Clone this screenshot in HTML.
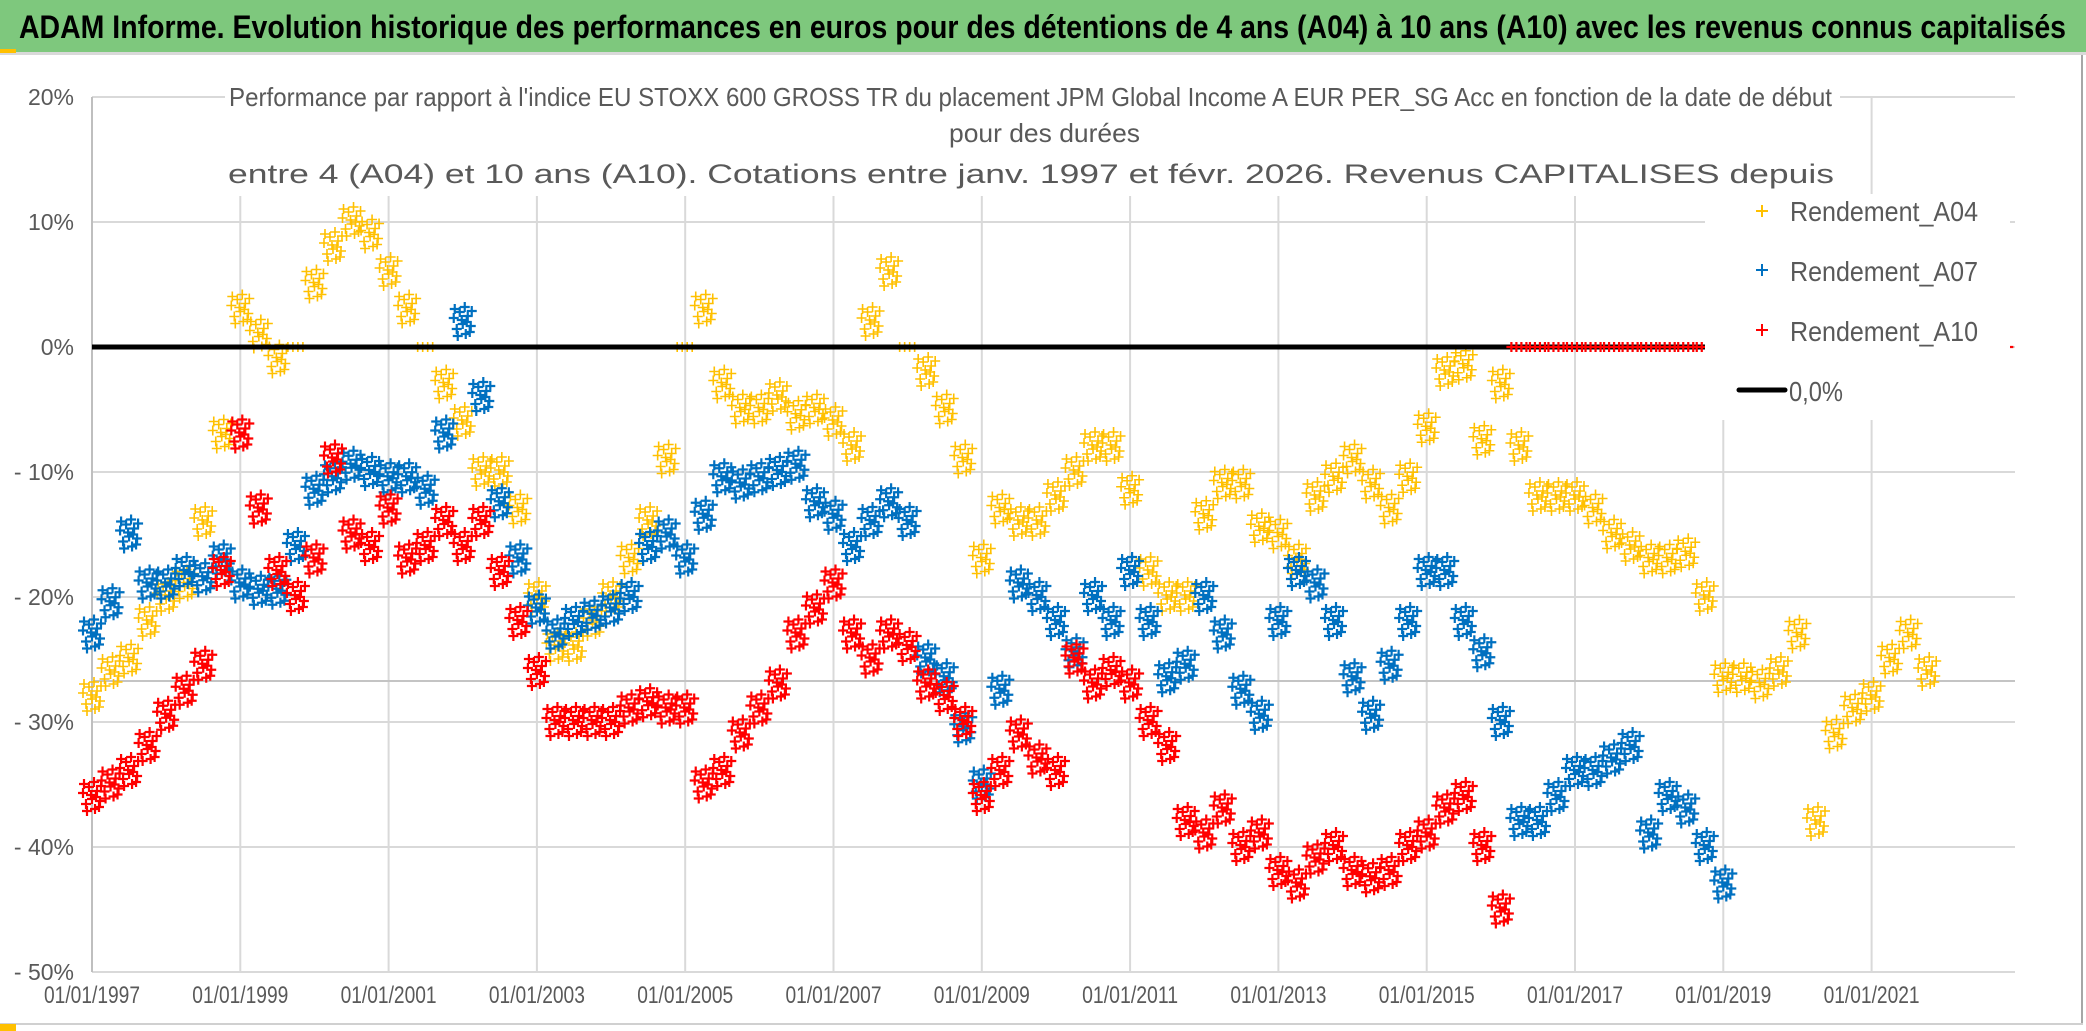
<!DOCTYPE html>
<html><head><meta charset="utf-8"><style>
html,body{margin:0;padding:0;background:#fff;}
svg{display:block;font-family:"Liberation Sans",sans-serif;}
</style></head><body>
<svg id="chart" width="2086" height="1031" viewBox="0 0 2086 1031" xmlns="http://www.w3.org/2000/svg">
<rect x="0" y="0" width="2086" height="1031" fill="#ffffff"/>
<rect x="0" y="0" width="2086" height="52" fill="#7ec87d"/>
<rect x="0" y="52" width="2086" height="3" fill="#d9d9d9"/>
<rect x="0" y="49" width="16" height="4" fill="#ffc000"/>
<text x="19" y="38" font-size="32" font-weight="bold" fill="#000" textLength="2047" lengthAdjust="spacingAndGlyphs">ADAM Informe. Evolution historique des performances en euros pour des détentions de 4 ans (A04) à 10 ans (A10) avec les revenus connus capitalisés</text>
<g id="grid"></g>
<g id="series"></g>
<rect x="225" y="72" width="1615" height="124" fill="#fff"/>
<text x="229" y="106" font-size="26" fill="#595959" textLength="1603" lengthAdjust="spacingAndGlyphs">Performance par rapport à l'indice EU STOXX 600 GROSS TR  du placement JPM Global Income A EUR PER_SG Acc en fonction de la date de début</text>
<text x="949" y="142" font-size="26" fill="#595959" textLength="191" lengthAdjust="spacingAndGlyphs">pour des durées</text>
<text x="228" y="183" font-size="27" fill="#595959" textLength="1606" lengthAdjust="spacingAndGlyphs">entre 4 (A04) et 10 ans (A10). Cotations entre janv. 1997 et févr. 2026. Revenus CAPITALISES depuis</text>
<g>
<rect x="1705" y="194" width="305" height="226" fill="#fff"/>
<g>
<path d="M1756 211h12M1762 205v12" stroke="#ffc000" stroke-width="2"/>
<text x="1790" y="221" font-size="28" fill="#595959" textLength="188" lengthAdjust="spacingAndGlyphs">Rendement_A04</text></g>
<g>
<path d="M1756 270h12M1762 264v12" stroke="#0070c0" stroke-width="2"/>
<text x="1790" y="281" font-size="28" fill="#595959" textLength="188" lengthAdjust="spacingAndGlyphs">Rendement_A07</text></g>
<g>
<path d="M1756 330h12M1762 324v12" stroke="#ff0000" stroke-width="2"/>
<text x="1790" y="341" font-size="28" fill="#595959" textLength="188" lengthAdjust="spacingAndGlyphs">Rendement_A10</text></g>
<g>
<line x1="1739" y1="390" x2="1785" y2="390" stroke="#000" stroke-width="5" stroke-linecap="round"/>
<text x="1789" y="401" font-size="28" fill="#595959" textLength="54" lengthAdjust="spacingAndGlyphs">0,0%</text></g>
</g>
<g id="axes"></g>
<line x1="2082" y1="55" x2="2082" y2="1024" stroke="#a6a6a6" stroke-width="2"/>
<line x1="0" y1="1024" x2="2083" y2="1024" stroke="#d0d0d0" stroke-width="2"/>
<rect x="0" y="1024" width="16" height="7" fill="#ffc000"/>
</svg>
<script>
const yTicks = [20, 10, 0, -10, -20, -30, -40, -50];
const yTickLabels = ["20%", "10%", "0%", "- 10%", "- 20%", "- 30%", "- 40%", "- 50%"];
const xTicks = [1997, 1999, 2001, 2003, 2005, 2007, 2009, 2011, 2013, 2015, 2017, 2019, 2021];
const xTickLabels = ["01/01/1997","01/01/1999","01/01/2001","01/01/2003","01/01/2005","01/01/2007","01/01/2009","01/01/2011","01/01/2013","01/01/2015","01/01/2017","01/01/2019","01/01/2021"];
const a04Start = 1997;
const a04Values = [-28,-26,-25,-22, -20,-19,-14,-7, 3,1,-1,0, 5,8,10,9, 6,3,0,-3, -6,-10,-10,-13, -20,-24,-24,-22, -20,-17,-14,-9, 0,3,-3,-5, -5,-4,-5.5,-5, -6,-8,2,6, 0,-2,-5,-9, -17,-13,-14,-14, -12,-10,-8,-8, -11.5,-18,-20,-20, -13.5,-11,-11,-14.5, -15,-17,-12,-10.5, -9,-11,-13,-10.5, -6.5,-2,-1.5,-7.5, -3,-8,-12,-12, -12,-13,-15,-16, -17,-17,-16.5,-20, -26.5,-26.5,-27,-26, -23,-38,-31,-29, -28,-25,-23,-26];
const a07Start = 1997;
const a07Values = [-23,-20.5,-15,-19, -19,-18,-18.5,-17, -19,-19.5,-19.5,-16, -11.5,-10.5,-9.5,-10, -10.5,-10.5,-11.5,-7, 2,-4,-12.5,-17, -21,-23,-22,-21.5, -21,-20,-16,-15, -17,-13.5,-10.5,-11, -10.5,-10,-9.5,-12.5, -13.5,-16,-14,-12.5, -14,-25,-26.5,-30.5, -35,-27.5,-19,-20, -22,-24.5,-20,-22, -18,-22,-26.5,-25.5, -20,-23,-27.5,-29.5, -22,-18,-19,-22, -26.5,-29.5,-25.5,-22, -18,-18,-22,-24.5, -30,-38,-38,-36, -34,-34,-33,-32, -39,-36,-37,-40, -43];
const a10Start = 1997;
const a10Values = [-36,-35,-34,-32, -29.5,-27.5,-25.5,-18, -7,-13,-18,-20, -17,-9,-15,-16, -13,-17,-16,-14, -16,-14,-18,-22, -26,-30,-30,-30, -30,-29,-28.5,-29, -29,-35,-34,-31, -29,-27,-23,-21, -19,-23,-25,-23, -24,-27,-28,-30, -36,-34,-31,-33, -34,-25,-27,-26, -27,-30,-32,-38, -39,-37,-40,-39, -42,-43,-41,-40, -42,-42.5,-42,-40, -39,-37,-36,-40, -45,0,0,0, 0,0,0,0, 0,0,0,0, 0,0,0,0, 0,0,0,0, 0,0,0,0, 0,0,0,0];
const zeroLineValue = 0;

const NS = "http://www.w3.org/2000/svg";
const X0 = 92, PXY = 74.15, Y0 = 347, PXV = 12.5, XRIGHT = 2015;
function xScale(yr){ return X0 + (yr - 1997) * PXY; }
function yScale(v){ return Y0 - v * PXV; }
function mk(tag, attrs, parent){ const e = document.createElementNS(NS, tag); for (const k in attrs) e.setAttribute(k, attrs[k]); parent.appendChild(e); return e; }

const grid = document.getElementById('grid');
yTicks.forEach(function(t){
  const l = mk('line', {x1: X0, x2: XRIGHT, y1: yScale(t), y2: yScale(t), stroke: '#d9d9d9', 'stroke-width': 2}, grid);
  
  
});
xTicks.forEach(function(t){
  const l = mk('line', {x1: xScale(t), x2: xScale(t), y1: yScale(20), y2: yScale(-50), stroke: t === 1997 ? '#bfbfbf' : '#d9d9d9', 'stroke-width': 2}, grid);
  
  
});
const ref = mk('line', {x1: X0, x2: XRIGHT, y1: 681, y2: 681, stroke: '#c4c4c4', 'stroke-width': 2}, grid);



const axes = document.getElementById('axes');
yTicks.forEach(function(t, i){
  const tx = mk('text', {x: 74, y: yScale(t) + 8, 'text-anchor': 'end', 'font-size': 23, fill: '#595959'}, axes);
  tx.textContent = yTickLabels[i];
  
  
});
xTicks.forEach(function(t, i){
  const tx = mk('text', {x: xScale(t) - 48, y: 1003, 'font-size': 24, fill: '#595959', textLength: 96, lengthAdjust: 'spacingAndGlyphs'}, axes);
  tx.textContent = xTickLabels[i];
  
  
});

const layer = document.getElementById('series');
const cluster = [[-9,-4],[-6,7],[-3,-10],[0,2],[3,12],[5,-6],[8,4],[-1,-2],[2,-15],[-5,14],[9,-11],[7,10],[-8,-13],[4,0]];
const zeroCluster = [[-8,0],[-3,0],[2,0],[7,0]];
function drawSeries(values, start, color, name, sw){
  const g = mk('g', {}, layer);
  
  
  let d = '';
  values.forEach(function(v, i){
    const cx = xScale(start + i * 0.25), cy = yScale(v);
    const cl = v === 0 ? zeroCluster : cluster;
    cl.forEach(function(o){
      const px = cx + o[0], py = cy + o[1];
      if (px > XRIGHT) return;
      d += 'M' + (px - 5) + ' ' + py + 'h10M' + px + ' ' + (py - 5) + 'v10';
    });
  });
  const p = mk('path', {d: d, stroke: color, 'stroke-width': sw, fill: 'none'}, g);
  
  
}
drawSeries(a04Values, a04Start, '#ffc000', 'series-a04', 1.6);
drawSeries(a07Values, a07Start, '#0070c0', 'series-a07', 2.2);
const zl = mk('line', {x1: X0, x2: 1705, y1: yScale(zeroLineValue), y2: yScale(zeroLineValue), stroke: '#000', 'stroke-width': 5}, layer);


drawSeries(a10Values, a10Start, '#ff0000', 'series-a10', 2.2);
</script>
</body></html>
